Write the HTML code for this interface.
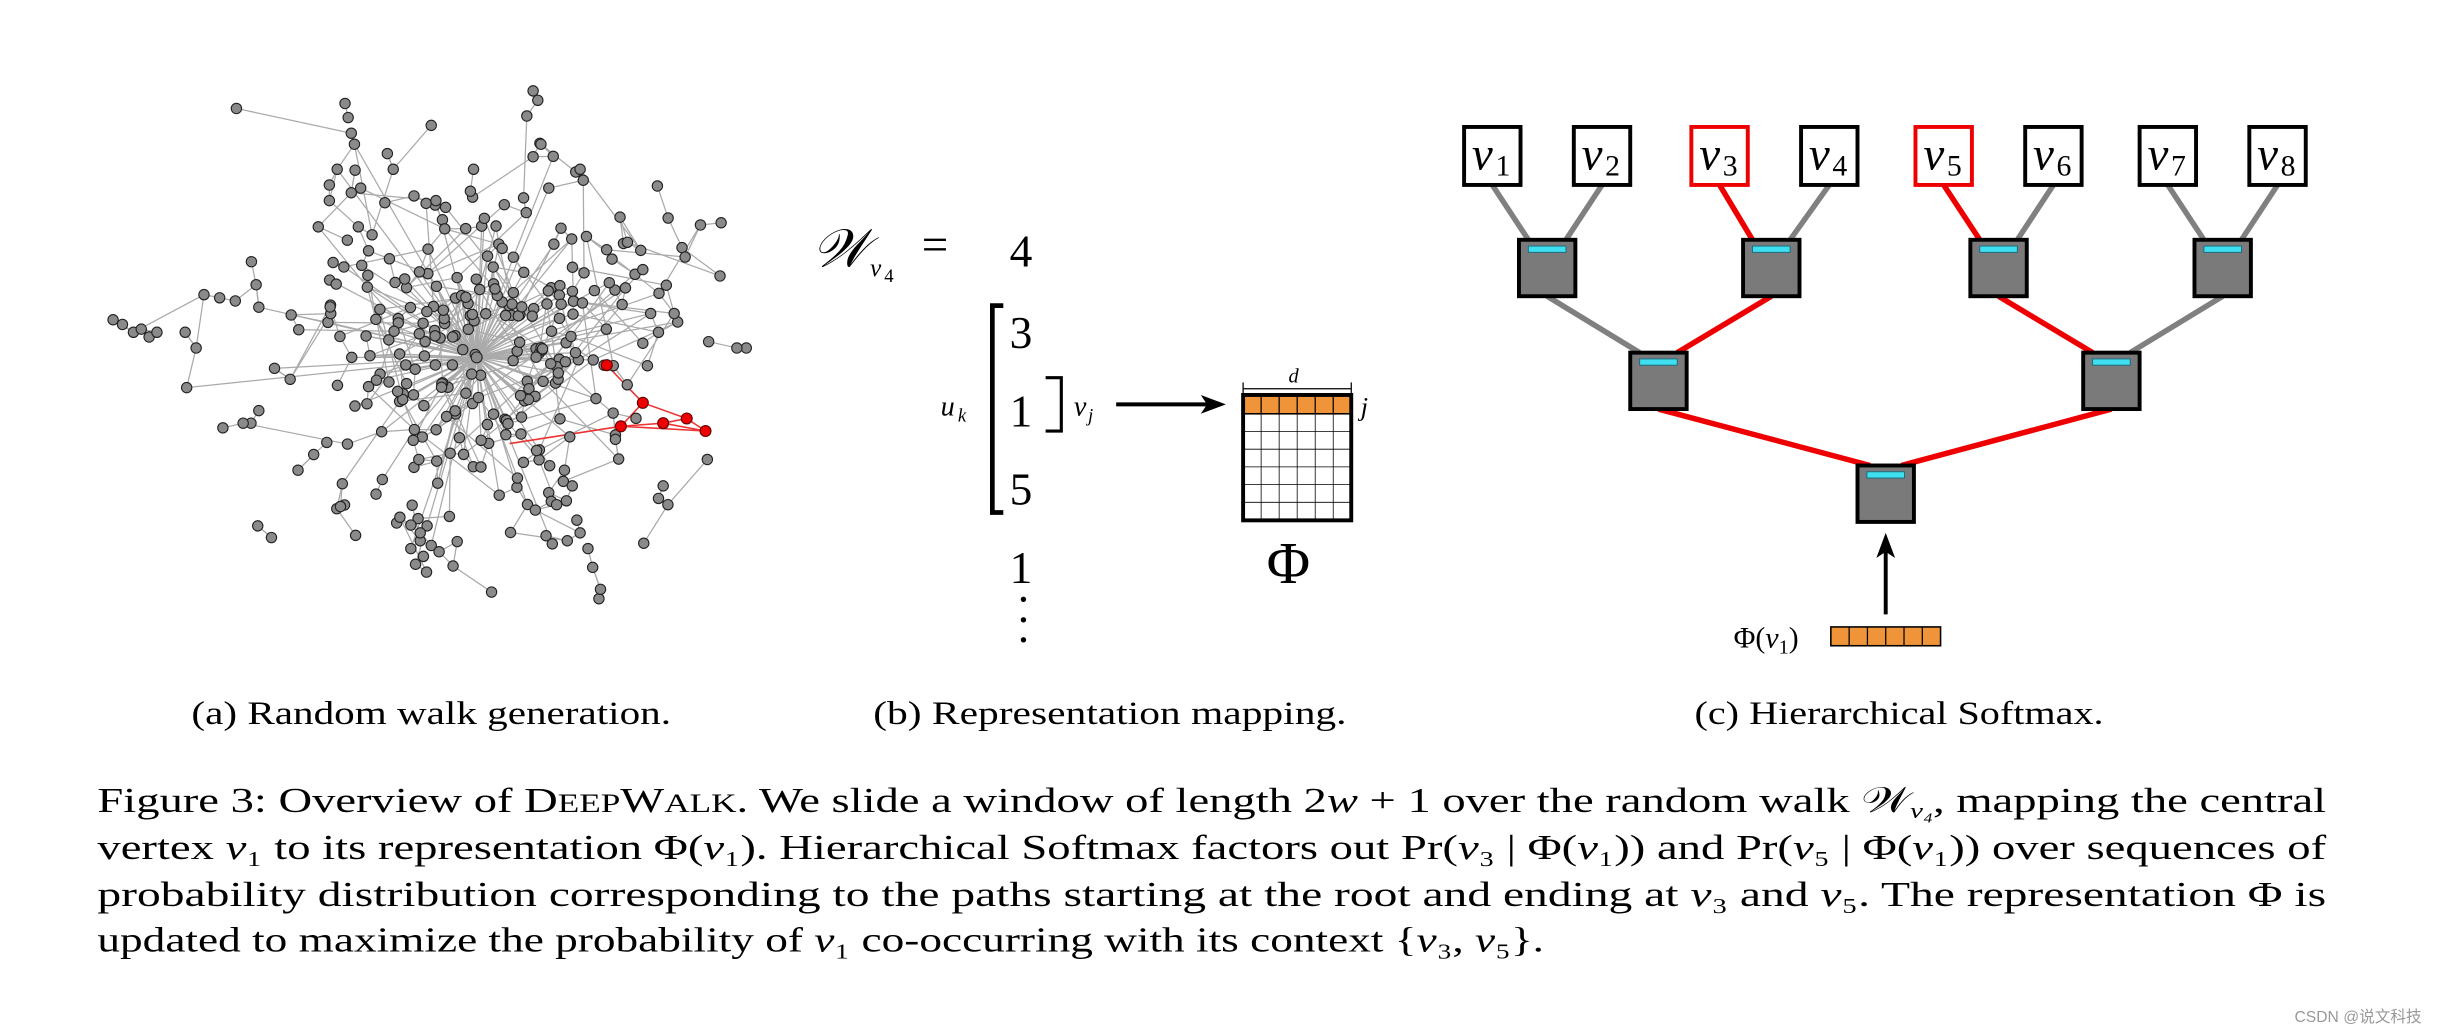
<!DOCTYPE html>
<html><head><meta charset="utf-8"><style>
html,body{margin:0;padding:0;background:#fff;width:2458px;height:1036px;overflow:hidden}
svg{display:block}
text{font-family:"Liberation Serif",serif;fill:#000}
</style></head><body>
<svg id="s" width="2458" height="1036" viewBox="0 0 1568 661" xmlns="http://www.w3.org/2000/svg">
<g id="graph"></g>
<!-- (b) -->
<text x="518" y="170" font-size="34" font-style="italic">𝒲</text>
<text x="555" y="176" font-size="16" font-style="italic">v</text>
<text x="564" y="180" font-size="12">4</text>
<text x="588" y="166" font-size="30">=</text>
<text x="644" y="170" font-size="29">4</text>
<path d="M640 195 H633 V327 H640" fill="none" stroke="#000" stroke-width="3"/>
<text x="644" y="222" font-size="29">3</text>
<text x="644" y="272" font-size="29">1</text>
<text x="644" y="322" font-size="29">5</text>
<text x="644" y="372" font-size="29">1</text>
<text x="648" y="392" font-size="29">·</text><text x="648" y="405" font-size="29">·</text><text x="648" y="418" font-size="29">·</text>
<text x="600" y="265" font-size="18" font-style="italic">u</text><text x="611" y="269" font-size="12" font-style="italic">k</text>
<path d="M667 241 H677 V275 H667" fill="none" stroke="#000" stroke-width="2"/>
<text x="685" y="265" font-size="18" font-style="italic">v</text><text x="694" y="269" font-size="12" font-style="italic">j</text>
<line x1="712" y1="258" x2="770" y2="258" stroke="#000" stroke-width="2.5"/>
<path d="M782 258 L766 252 L770 258 L766 264 Z" fill="#000"/>
<text x="822" y="244" font-size="13" font-style="italic">d</text>
<line x1="793" y1="248" x2="862" y2="248" stroke="#000" stroke-width="0.8"/>
<line x1="793" y1="244" x2="793" y2="252" stroke="#000" stroke-width="0.8"/>
<line x1="862" y1="244" x2="862" y2="252" stroke="#000" stroke-width="0.8"/>
<g id="mat"></g>
<text x="868" y="265" font-size="17" font-style="italic">j</text>
<text x="808" y="372" font-size="38">Φ</text>
<!-- (c) -->
<g id="tree"></g>
<line x1="1203" y1="392" x2="1203" y2="352" stroke="#000" stroke-width="2.5"/>
<path d="M1203 340 L1197 356 L1203 352 L1209 356 Z" fill="#000"/>
<text x="1106" y="413" font-size="19">Φ(<tspan font-style="italic">v</tspan><tspan font-size="13" dy="4">1</tspan><tspan dy="-4">)</tspan></text>
<g id="vec"></g>
<!-- captions -->
<text x="122" y="462" font-size="21" textLength="306" lengthAdjust="spacingAndGlyphs">(a) Random walk generation.</text>
<text x="557" y="462" font-size="21" textLength="302" lengthAdjust="spacingAndGlyphs">(b) Representation mapping.</text>
<text x="1081" y="462" font-size="21" textLength="261" lengthAdjust="spacingAndGlyphs">(c) Hierarchical Softmax.</text>
<text x="62" y="518" font-size="22.5" textLength="1422" lengthAdjust="spacingAndGlyphs">Figure 3: Overview of D<tspan font-size="17">EEP</tspan>W<tspan font-size="17">ALK</tspan>. We slide a window of length 2<tspan font-style="italic">w</tspan> + 1 over the random walk 𝒲<tspan font-size="14" font-style="italic" dy="4">v₄</tspan><tspan dy="-4">, mapping the central</tspan></text>
<text x="62" y="548" font-size="22.5" textLength="1422" lengthAdjust="spacingAndGlyphs">vertex <tspan font-style="italic">v</tspan>₁ to its representation Φ(<tspan font-style="italic">v</tspan>₁). Hierarchical Softmax factors out Pr(<tspan font-style="italic">v</tspan>₃ | Φ(<tspan font-style="italic">v</tspan>₁)) and Pr(<tspan font-style="italic">v</tspan>₅ | Φ(<tspan font-style="italic">v</tspan>₁)) over sequences of</text>
<text x="62" y="578" font-size="22.5" textLength="1422" lengthAdjust="spacingAndGlyphs">probability distribution corresponding to the paths starting at the root and ending at <tspan font-style="italic">v</tspan>₃ and <tspan font-style="italic">v</tspan>₅. The representation Φ is</text>
<text x="62" y="607" font-size="22.5" textLength="923" lengthAdjust="spacingAndGlyphs">updated to maximize the probability of <tspan font-style="italic">v</tspan>₁ co-occurring with its context {<tspan font-style="italic">v</tspan>₃, <tspan font-style="italic">v</tspan>₅}.</text>
<text x="1545" y="652" font-size="10" text-anchor="end" style="font-family:'Liberation Sans','Noto Sans CJK SC',sans-serif;fill:#999">CSDN @说文科技</text>
</svg>
<script>
var NS="http://www.w3.org/2000/svg";
function el(p,t,a){var e=document.createElementNS(NS,t);for(var k in a)e.setAttribute(k,a[k]);p.appendChild(e);return e;}
var m=document.getElementById("mat");
el(m,"rect",{x:793,y:252,width:69,height:12,fill:"#f0943a",stroke:"#000","stroke-width":1});
for(var i=1;i<6;i++)el(m,"line",{x1:793+i*11.5,y1:252,x2:793+i*11.5,y2:264,stroke:"#000","stroke-width":0.8});
for(var i=1;i<6;i++)el(m,"line",{x1:793+i*11.5,y1:264,x2:793+i*11.5,y2:332,stroke:"#000","stroke-width":0.5});
for(var j=1;j<6;j++)el(m,"line",{x1:793,y1:264+j*11.3,x2:862,y2:264+j*11.3,stroke:"#000","stroke-width":0.5});
el(m,"rect",{x:793,y:252,width:69,height:80,fill:"none",stroke:"#000","stroke-width":2.5});
var v=document.getElementById("vec");
el(v,"rect",{x:1168,y:400,width:70,height:12,fill:"#f0943a",stroke:"#000","stroke-width":1});
for(var i=1;i<6;i++)el(v,"line",{x1:1168+i*11.67,y1:400,x2:1168+i*11.67,y2:412,stroke:"#000","stroke-width":0.8});
var t=document.getElementById("tree");
var leaves=[952,1022,1097,1167,1240,1310,1383,1453];
var l1=[987,1130,1275,1418],l2=[1058,1347],root=1203;
function ln(x1,y1,x2,y2,red){el(t,"line",{x1:x1,y1:y1,x2:x2,y2:y2,stroke:red?"#e00":"#808080","stroke-width":3.5});}
for(var i=0;i<8;i++){var p=l1[i>>1];var red=(i==2||i==4);ln(leaves[i],118,p+(i%2?12:-12),153,red);}
for(var i=0;i<4;i++){var p=l2[i>>1];var red=(i==1||i==2);ln(l1[i],189,p+(i%2?12:-12),225,red);}
ln(l2[0],261,root-10,297,true);ln(l2[1],261,root+10,297,true);
function box(cx,cy){el(t,"rect",{x:cx-18,y:cy-18,width:36,height:36,fill:"#7a7a7a",stroke:"#000","stroke-width":2.5});
 el(t,"rect",{x:cx-12,y:cy-14,width:24,height:4,fill:"#3ee0f0",stroke:"#1a6b80","stroke-width":0.6});}
l1.forEach(function(x){box(x,171)});l2.forEach(function(x){box(x,243)});box(root,315);
for(var i=0;i<8;i++){var red=(i==2||i==4);
 el(t,"rect",{x:leaves[i]-18,y:81,width:36,height:37,fill:"#fff",stroke:red?"#e00":"#000","stroke-width":2.5});
 var tx=el(t,"text",{x:leaves[i]-13,y:108,"font-size":30,"font-style":"italic"});tx.textContent="v";
 var s=el(t,"text",{x:leaves[i]+2,y:112,"font-size":19});s.textContent=String(i+1);}
var g=document.getElementById("graph");
var seed=11;function r(){seed=(seed*16807)%2147483647;return seed/2147483647;}
function gs(){return (r()+r()+r()-1.5)*1.6;}
var hub=[304,228],nodes=[];
for(var i=0;i<280;i++){var x=hub[0]+gs()*80,y=hub[1]+gs()*75;nodes.push([x,y]);}
var extra=[[72,204],[78,207],[85,212],[90,210],[95,215],[100,212],[118,212],[130,188],[140,190],[150,192],[165,196],[125,222],[220,66],[222,75],[224,85],[226,92],[215,108],[210,118],[340,58],[343,64],[336,74],[345,92],[350,120],[370,108],[372,115],[302,108],[300,122],[278,128],[264,125],[435,158],[437,164],[425,182],[420,212],[410,219],[452,218],[476,222],[470,222],[382,382],[383,376],[378,362],[375,350],[370,340],[355,322],[330,305],[265,360],[270,355],[268,345],[262,335],[255,330],[420,318],[426,322],[423,310],[160,270],[165,262],[185,242],[175,235],[210,128],[230,120],[247,98],[275,80],[340,100],[405,175],[410,172],[415,200],[430,200],[235,160],[268,340],[275,348],[280,352],[262,350],[272,365],[360,300],[365,310],[200,290],[190,300],[155,270]];
extra.forEach(function(p){nodes.push(p)});
var ge=el(g,"g",{stroke:"#aaa","stroke-width":0.8});
for(var i=0;i<nodes.length;i++){var n=nodes[i];
 var dh=Math.hypot(n[0]-hub[0],n[1]-hub[1]);
 if(r()<(dh<90?0.6:0.1))el(ge,"line",{x1:hub[0],y1:hub[1],x2:n[0],y2:n[1]});
 var best=-1,bd=1e9;for(var k=0;k<nodes.length;k++){if(k==i)continue;var d=Math.hypot(nodes[k][0]-n[0],nodes[k][1]-n[1]);var dd=d+r()*25;if(dd<bd&&d>3){bd=dd;best=k;}}
 if(best>=0)el(ge,"line",{x1:n[0],y1:n[1],x2:nodes[best][0],y2:nodes[best][1]});
 for(var c=0;c<3;c++){var k=Math.floor(r()*nodes.length);if(Math.hypot(nodes[k][0]-n[0],nodes[k][1]-n[1])<70){el(ge,"line",{x1:n[0],y1:n[1],x2:nodes[k][0],y2:nodes[k][1]});break;}}
}
var red=[[387,233],[410,257],[396,272],[423,270],[438,267],[450,275]];
var re=el(g,"g",{stroke:"#e33","stroke-width":1});
[[0,1],[1,2],[1,4],[2,3],[3,4],[4,5],[2,5],[3,5]].forEach(function(e){el(re,"line",{x1:red[e[0]][0],y1:red[e[0]][1],x2:red[e[1]][0],y2:red[e[1]][1]});});
el(re,"line",{x1:396,y1:272,x2:325,y2:283});
nodes.forEach(function(n){el(g,"circle",{cx:n[0],cy:n[1],r:3.3,fill:"#8a8a8a",stroke:"#222","stroke-width":0.7});});
el(g,"circle",{cx:hub[0],cy:hub[1],r:3.5,fill:"#8a8a8a",stroke:"#222","stroke-width":0.7});
red.forEach(function(n){el(g,"circle",{cx:n[0],cy:n[1],r:3.5,fill:"#e00",stroke:"#600","stroke-width":0.7});});
</script>
</body></html>
